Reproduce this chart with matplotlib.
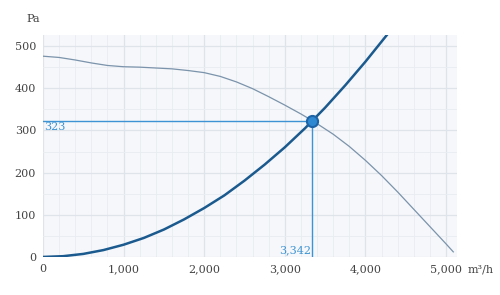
import matplotlib.pyplot as plt
from matplotlib.ticker import FuncFormatter, MultipleLocator

# fan curve (m3/h, Pa)
fan_flow = [0, 200, 400, 600, 800, 1000, 1200, 1400, 1600, 1800, 2000, 2200, 2400, 2600,
            2800, 3000, 3200, 3342, 3400, 3600, 3800, 4000, 4200, 4400, 4600, 4800, 5000, 5090]
fan_pa = [476, 473, 467, 460, 454, 451, 450, 448, 446, 442, 437, 428, 415, 399,
          380, 360, 339, 323, 316, 291, 262, 229, 193, 154, 113, 72, 31, 12]

# system curve
sys_flow = [0, 250, 500, 750, 1000, 1250, 1500, 1750, 2000, 2250, 2500, 2750, 3000,
            3250, 3342, 3500, 3750, 4000, 4265]
sys_pa = [0, 1.8, 7.2, 16.3, 29, 45, 65, 89, 116, 146, 181, 219, 260,
          305, 323, 354, 407, 463, 526]

# operating point
op_flow = 3342
op_pa = 323

xticks = [0, 1000, 2000, 3000, 4000, 5000]
yticks = [0, 100, 200, 300, 400, 500]

plt.rcParams['font.family'] = 'DejaVu Serif'
fig = plt.figure(figsize=(5, 2.95), dpi=100)
ax = fig.add_axes([0.086, 0.129, 0.828, 0.752])
ax.set_facecolor('#f5f7fa')

ax.set_xlim(0, 5136)
ax.set_ylim(0, 526)
ax.set_xticks(xticks)
ax.set_yticks(yticks)
ax.xaxis.set_minor_locator(MultipleLocator(200))
ax.yaxis.set_minor_locator(MultipleLocator(50))
ax.xaxis.set_major_formatter(FuncFormatter(lambda v, p: f'{int(v):,}'))
ax.grid(which='major', color='#dfe3ea', lw=0.9)
ax.grid(which='minor', color='#e9ecf1', lw=0.6)
ax.set_axisbelow(True)
for s in ax.spines.values():
    s.set_visible(False)
ax.tick_params(which='both', length=0, labelsize=8, colors='#444444', pad=5)

ax.plot(fan_flow, fan_pa, color='#7b93ab', lw=0.9, zorder=3)
ax.plot(sys_flow, sys_pa, color='#1b5a8e', lw=1.8, zorder=4)

ac = '#3d93d3'
ax.plot([0, op_flow], [op_pa, op_pa], color=ac, lw=1.0, zorder=3)
ax.plot([op_flow, op_flow], [0, op_pa], color=ac, lw=1.0, zorder=3)
ax.plot([op_flow], [op_pa], 'o', ms=8, color='#2f88d2', mec='#1d64a6', mew=1.5, zorder=5)
ax.text(20, op_pa - 4, f'{op_pa}', color=ac, fontsize=8, ha='left', va='top')
ax.text(op_flow - 20, 4, f'{op_flow:,}', color=ac, fontsize=8, ha='right', va='bottom')

fig.text(0.066, 0.935, 'Pa', fontsize=8, color='#444444', ha='center', va='center')
fig.text(0.962, 0.085, 'm³/h', fontsize=8, color='#444444', ha='center', va='center')

fig.savefig('out.png', dpi=100)
